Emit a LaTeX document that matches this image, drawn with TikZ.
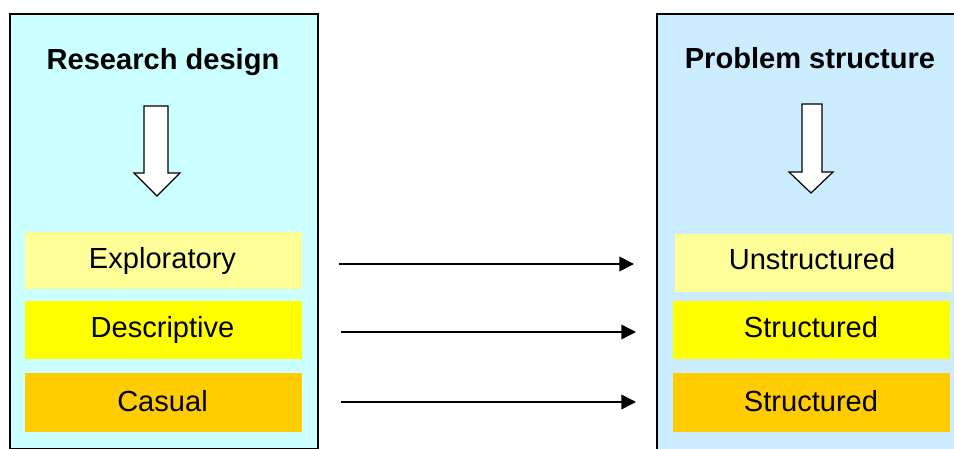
\documentclass[tikz,border=0pt]{standalone}
\usepackage{fontspec}
\setmainfont{Liberation Sans}
\usetikzlibrary{arrows.meta}
\definecolor{panelL}{HTML}{CCFFFF}
\definecolor{panelR}{HTML}{CCECFF}
\definecolor{c1}{HTML}{FFFF99}
\definecolor{c2}{HTML}{FFFF00}
\definecolor{c3}{HTML}{FFCC00}
\tikzset{
  panel/.style={draw=black, line width=1.2pt, anchor=north west, inner sep=0pt},
  item/.style={anchor=north west, inner sep=0pt},
  lbl/.style={anchor=base, inner sep=0pt, font=\fontsize{21.8}{26}\selectfont},
  ttl/.style={anchor=base, inner sep=0pt, font=\fontsize{21.8}{26}\selectfont\bfseries},
  conn/.style={line width=1.2pt, -{Triangle[length=11pt,width=11pt]}},
  block/.style={draw=black, fill=white, line width=0.9pt, line join=miter}
}
\begin{document}
\begin{tikzpicture}[x=0.75pt,y=-0.75pt]
\useasboundingbox (0,0) rectangle (954,449);
% panels
\node[panel, fill=panelL, minimum width=308*0.75pt, minimum height=435*0.75pt] (lp) at (9,13) {};
\node[panel, fill=panelR, minimum width=310*0.75pt, minimum height=440*0.75pt] (rp) at (656,13) {};
% titles
\node[ttl] (lt) at (163,70) {Research design};
\node[ttl] (rt) at (810,69) {Problem structure};
% hollow block arrows
\draw[block] (144,106) -- (168,106) -- (168,173) -- (180,173) -- (157,196) -- (134,173) -- (144,173) -- cycle;
\draw[block] (802,104) -- (822,104) -- (822,172) -- (833,172) -- (811,193) -- (789,172) -- (802,172) -- cycle;
% left items
\node[item, fill=c1, minimum width=277*0.75pt, minimum height=57*0.75pt] (le) at (25,232) {};
\node[lbl] (lel) at (162.5,268) {Exploratory};
\node[item, fill=c2, minimum width=277*0.75pt, minimum height=58*0.75pt] (ld) at (25,301) {};
\node[lbl] (ldl) at (162.5,338) {Descriptive};
\node[item, fill=c3, minimum width=277*0.75pt, minimum height=59*0.75pt] (lc) at (25,373) {};
\node[lbl] (lcl) at (162.5,411) {Casual};
% right items
\node[item, fill=c1, minimum width=277*0.75pt, minimum height=58*0.75pt] (ru) at (675,234) {};
\node[lbl] (rul) at (812,270) {Unstructured};
\node[item, fill=c2, minimum width=277*0.75pt, minimum height=58*0.75pt] (rs1) at (673,301) {};
\node[lbl] (rs1l) at (811,338) {Structured};
\node[item, fill=c3, minimum width=277*0.75pt, minimum height=59*0.75pt] (rs2) at (673,373) {};
\node[lbl] (rs2l) at (811,411) {Structured};
% connectors
\coordinate (a1s) at (339,264); \coordinate (a1e) at (634,264);
\coordinate (a2s) at (341,332); \coordinate (a2e) at (636,332);
\coordinate (a3s) at (341,402); \coordinate (a3e) at (636,402);
\draw[conn] (a1s) -- (a1e);
\draw[conn] (a2s) -- (a2e);
\draw[conn] (a3s) -- (a3e);
\end{tikzpicture}
\end{document}
